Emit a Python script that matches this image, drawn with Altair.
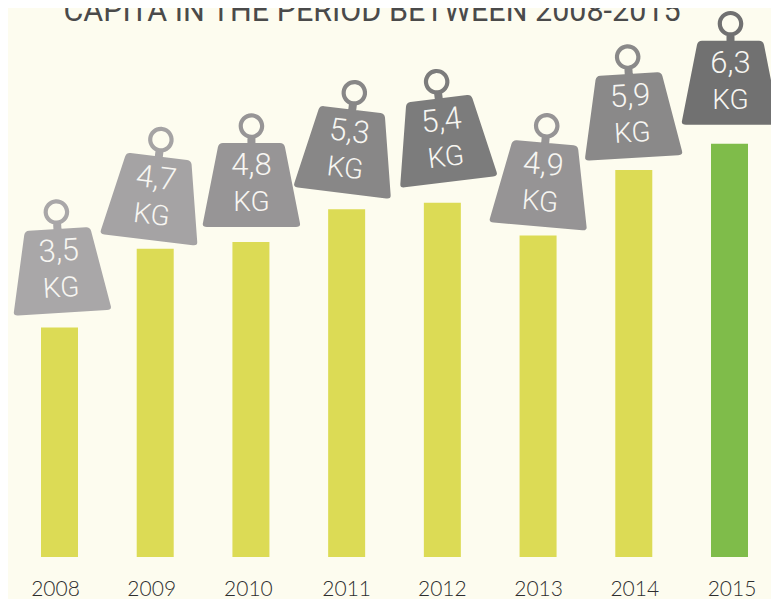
import math
import altair as alt
import pandas as pd

years = [2008, 2009, 2010, 2011, 2012, 2013, 2014, 2015]
values = [3.5, 4.7, 4.8, 5.3, 5.4, 4.9, 5.9, 6.3]
labels = ["3,5", "4,7", "4,8", "5,3", "5,4", "4,9", "5,9", "6,3"]
tilts = [-3.5, 7, 0, 7, -7, 5, -3.5, 0]
weight_colors = ["#a9a7a8", "#a5a3a4", "#979596", "#888787", "#7c7c7c", "#969495", "#8a8989", "#717171"]
bar_colors = ["#dcdb55"] * 7 + ["#7fbc4a"]
shift_x = [0.5, -1.5, 0.5, 0.5, 1.5, 3.5, -2.5, 1]
shift_y = [-56.5, -50.5, -57, -58, -62.5, -51, -54, -61]
label_shift = [-4, -3.5, -2.5, 0, 0, 0.5, 1, 2.5]
title_text = "CAPITA IN THE PERIOD BETWEEN 2008-2015"

PX_X = (721.5 - 51.5) / 7
Y_TOP = 549 / 65.6


def n(v):
    return f"{v / 60:.4f}"


def circle(cy, r, cw=True):
    k = r * 0.5523
    if cw:
        pts = [(r, k, k, r, 0, r), (-k, r, -r, k, -r, 0), (-r, -k, -k, -r, 0, -r), (k, -r, r, -k, r, 0)]
    else:
        pts = [(r, -k, k, -r, 0, -r), (-k, -r, -r, -k, -r, 0), (-r, k, -k, r, 0, r), (k, r, r, k, r, 0)]
    s = f"M{n(r)},{n(cy)}"
    for a, b, c, d, e, f in pts:
        s += f"C{n(a)},{n(cy + b)},{n(c)},{n(cy + d)},{n(e)},{n(cy + f)}"
    return s + "Z"


def weight_path():
    t, b, h, r = 32.5, 48.5, 42, 4
    body = (
        f"M{n(-t + r)},{n(-h)}L{n(t - r)},{n(-h)}Q{n(t)},{n(-h)},{n(t + 1)},{n(-h + r)}"
        f"L{n(b)},{n(h - r)}Q{n(b + 1)},{n(h)},{n(b - r)},{n(h)}L{n(-b + r)},{n(h)}"
        f"Q{n(-b - 1)},{n(h)},{n(-b)},{n(h - r)}L{n(-t - 1)},{n(-h + r)}Q{n(-t)},{n(-h)},{n(-t + r)},{n(-h)}Z"
    )
    stem = f"M{n(-4)},{n(-48)}L{n(4)},{n(-48)}L{n(4)},{n(-41)}L{n(-4)},{n(-41)}Z"
    return body + stem + circle(-59, 12.8, True) + circle(-59, 8.6, False)


def to_data(year, value, dx, dy):
    return year + dx / PX_X, value - dy / 65.6


rows_w, rows_t = [], []
for yr, v, lab, tilt, col, sx, sy in zip(years, values, labels, tilts, weight_colors, shift_x, shift_y):
    px, py = to_data(yr, v, sx, sy)
    rows_w.append({"x": px, "y": py, "tilt": tilt, "color": col})
    th = math.radians(tilt)
    for txt, d, size in [(lab, -19, 31), ("KG", 18, 28)]:
        tx, ty = to_data(yr, v, sx - d * math.sin(th), sy + d * math.cos(th))
        rows_t.append({"x": tx, "y": ty, "tilt": tilt, "txt": txt, "size": size})

bars_df = pd.DataFrame({"year": years, "value": values, "color": bar_colors})
weights_df = pd.DataFrame(rows_w)
texts_df = pd.DataFrame(rows_t)
years_df = pd.DataFrame({
    "x": [y + s / PX_X for y, s in zip(years, label_shift)],
    "label": [str(y) for y in years],
})

X = alt.Scale(domain=[2008, 2015], range=[51.5, 721.5], padding=0, nice=False, zero=False)
Y = alt.Scale(domain=[0, Y_TOP], range=[549, 0], padding=0, nice=False)

bars = alt.Chart(bars_df).mark_bar(size=37).encode(
    x=alt.X("year:Q", scale=X, axis=None),
    y=alt.Y("value:Q", scale=Y, axis=None),
    color=alt.Color("color:N", scale=None),
)

year_labels = alt.Chart(years_df).mark_text(
    font="Lato", fontSize=21, fontWeight=300, color="#2e2e2e", baseline="middle", align="center"
).encode(x=alt.X("x:Q", scale=X), y=alt.value(582), text="label:N")

weights = alt.Chart(weights_df).mark_point(
    filled=True, opacity=1, size=14400, shape=weight_path()
).encode(
    x=alt.X("x:Q", scale=X),
    y=alt.Y("y:Q", scale=Y),
    angle=alt.Angle("tilt:Q", scale=None),
    color=alt.Color("color:N", scale=None),
)

texts = alt.Chart(texts_df).mark_text(
    font="Roboto", fontWeight=300, color="#f7f6f2", baseline="middle", align="center"
).encode(
    x=alt.X("x:Q", scale=X),
    y=alt.Y("y:Q", scale=Y),
    angle=alt.Angle("tilt:Q", scale=None),
    size=alt.Size("size:Q", scale=None),
    text="txt:N",
)

title = alt.Chart(pd.DataFrame({"t": [title_text]})).mark_text(
    font="Roboto", fontSize=30.5, color="#4a4a4a", baseline="alphabetic", align="center"
).encode(x=alt.value(364), y=alt.value(13), text="t:N")

chart = alt.layer(bars, year_labels, weights, texts, title).properties(
    width=763, height=549, background="#fdfcef",
    padding={"left": 0, "top": 0, "right": 0, "bottom": 42},
    autosize=alt.AutoSizeParams(type="none"),
).configure_view(stroke=None)

chart.save("out.html", embed_options={"renderer": "svg", "actions": False})
